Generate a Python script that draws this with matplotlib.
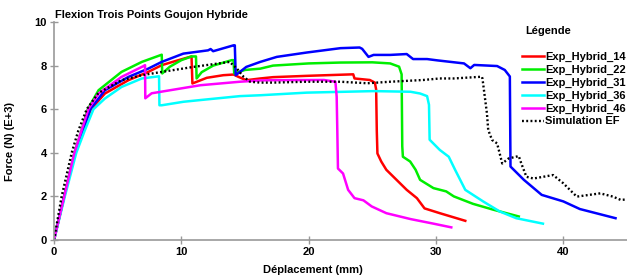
import matplotlib
matplotlib.use('Agg')
import matplotlib.pyplot as plt

plt.rcParams['font.family'] = ['Liberation Sans', 'DejaVu Sans']
plt.rcParams['font.weight'] = 'bold'

# courbes (deplacement en mm, force en kN)
x14 = [0, 0.8, 1.65, 2.25, 2.9, 4.0, 5.84, 7.4, 8.46, 9.6, 10.8, 10.87, 12.0, 13.3, 14.1, 14.5, 15.1, 16.2, 17.2,
       19.85, 23.5, 23.6, 24.8, 25.2, 25.3, 25.35, 25.4, 25.7, 26.1, 26.9, 27.7, 28.5, 29.1, 30.3, 32.3]
y14 = [0, 2, 4, 5, 6, 6.72, 7.33, 7.71, 8.02, 8.22, 8.42, 7.18, 7.44, 7.56, 7.59, 7.48, 7.33, 7.41, 7.47,
       7.53, 7.6, 7.41, 7.34, 7.22, 6.9, 5.0, 3.97, 3.6, 3.22, 2.76, 2.3, 1.92, 1.45, 1.23, 0.88]

x22 = [0, 0.8, 1.6, 2.15, 2.65, 3.5, 5.3, 6.9, 8.46, 8.5, 9.1, 10.0, 10.8, 11.15, 11.2, 11.6, 12.5, 13.96, 14.1,
       14.15, 15.0, 16.2, 17.2, 20.0, 22.5, 25.0, 26.4, 27.1, 27.3, 27.35, 27.4, 27.97, 28.4, 28.75, 29.8, 30.8,
       31.4, 32.9, 34.5, 36.5]
y22 = [0, 2, 4, 5, 6, 6.87, 7.71, 8.17, 8.5, 7.64, 7.95, 8.25, 8.42, 8.42, 7.41, 7.7, 8.0, 8.25, 8.25,
       7.64, 7.8, 7.86, 8.0, 8.1, 8.14, 8.15, 8.1, 7.95, 7.6, 4.3, 3.82, 3.6, 3.22, 2.76, 2.38, 2.23,
       2.0, 1.66, 1.39, 1.08]

x31 = [0, 0.8, 1.65, 2.25, 2.85, 4.0, 5.84, 7.4, 8.46, 10.16, 12.1, 12.3, 12.5, 14.1, 14.2, 14.27, 15.1, 16.2,
       17.5, 19.85, 22.5, 24.0, 24.2, 24.7, 25.1, 26.4, 27.7, 28.2, 29.3, 30.1, 32.2, 32.7, 33.0, 34.8, 35.4,
       35.8, 35.85, 36.9, 38.3, 40.0, 41.3, 44.1]
y31 = [0, 2, 4, 5, 6, 6.87, 7.48, 7.86, 8.17, 8.55, 8.7, 8.76, 8.66, 8.93, 8.93, 7.56, 7.94, 8.17,
       8.4, 8.6, 8.8, 8.83, 8.77, 8.4, 8.49, 8.49, 8.53, 8.3, 8.3, 8.24, 8.1, 7.88, 8.03, 7.98, 7.8,
       7.5, 3.37, 2.76, 2.07, 1.77, 1.42, 1.0]

x36 = [0, 0.85, 1.75, 2.4, 3.1, 4.0, 5.3, 6.9, 8.25, 8.28, 8.46, 10.16, 11.5, 14.6, 16.2, 19.85, 25.1, 28.0,
       28.75, 29.3, 29.45, 29.5, 30.3, 31.0, 31.5, 32.3, 33.7, 35.0, 36.3, 38.4]
y36 = [0, 2, 4, 5, 6, 6.49, 7.02, 7.41, 7.51, 6.18, 6.18, 6.34, 6.42, 6.6, 6.64, 6.76, 6.83, 6.8,
       6.72, 6.6, 6.2, 4.6, 4.13, 3.82, 3.22, 2.3, 1.77, 1.31, 1.0, 0.75]

x46 = [0, 0.8, 1.6, 2.15, 2.7, 3.5, 5.3, 6.1, 7.0, 7.15, 7.17, 7.67, 11.5, 14.6, 16.2, 17.2, 21.2, 22.1, 22.2,
       22.25, 22.3, 22.7, 23.1, 23.6, 24.3, 24.95, 26.1, 28.0, 29.8, 31.2]
y46 = [0, 2, 4, 5, 6, 6.72, 7.48, 7.71, 7.97, 8.02, 6.5, 6.73, 7.1, 7.26, 7.32, 7.33, 7.34, 7.26, 6.57,
       5.0, 3.28, 3.05, 2.3, 1.92, 1.82, 1.54, 1.23, 0.96, 0.75, 0.58]

xsim = [0, 0.6, 1.39, 1.9, 2.57, 3.5, 5.3, 6.9, 8.46, 10.95, 13.8, 14.35, 14.9, 15.4, 16.2, 17.2, 19.85, 22.5,
        24.6, 26.4, 29.0, 30.3, 31.4, 33.6, 33.65, 34.0, 34.1, 34.4, 34.8, 35.2, 35.7, 36.5, 36.7, 37.1, 37.65,
        39.2, 40.0, 41.05, 42.9, 43.9, 44.5, 45.0]
ysim = [0, 2, 4, 5, 6, 6.75, 7.33, 7.56, 7.71, 7.94, 8.17, 7.87, 7.48, 7.26, 7.22, 7.22, 7.26, 7.26,
        7.19, 7.26, 7.34, 7.41, 7.41, 7.49, 7.4, 5.81, 5.05, 4.59, 4.43, 3.51, 3.74, 3.85, 3.51, 2.9, 2.82,
        2.98, 2.6, 1.99, 2.14, 1.99, 1.84, 1.86]

series = [
    (x14, y14, 'Exp_Hybrid_14', '#ff0000'),
    (x22, y22, 'Exp_Hybrid_22', '#00ee00'),
    (x31, y31, 'Exp_Hybrid_31', '#0000ff'),
    (x36, y36, 'Exp_Hybrid_36', '#00ffff'),
    (x46, y46, 'Exp_Hybrid_46', '#ff00ff'),
]

fig = plt.figure(figsize=(6.27, 2.77), dpi=100)
ax = fig.add_axes([54 / 627, 1 - 240 / 277, 573 / 627, 218 / 277])

for xs, ys, lab, c in series:
    ax.plot(xs, ys, color=c, lw=1.8, label=lab, solid_joinstyle='round')
ax.plot(xsim, ysim, color='black', lw=1.7, linestyle=(0, (0.8, 1.0)), label='Simulation EF')

ax.set_xlim(0, 45)
ax.set_ylim(0, 10)
ax.set_xticks([0, 10, 20, 30, 40])
ax.set_yticks([0, 2, 4, 6, 8, 10])
for s in ['top', 'right']:
    ax.spines[s].set_visible(False)
for s in ['left', 'bottom']:
    ax.spines[s].set_color('#999999')
    ax.spines[s].set_linewidth(1.2)
ax.tick_params(direction='inout', length=6, width=1, color='#999999', labelsize=8, pad=2)
for t in ax.get_xticklabels() + ax.get_yticklabels():
    t.set_fontweight('bold')

ax.set_xlabel('Déplacement (mm)', fontsize=8, fontweight='bold')
ax.xaxis.set_label_coords(0.452, -0.115)
ax.set_ylabel('Force (N) (E+3)', fontsize=8, fontweight='bold')
ax.yaxis.set_label_coords(-0.068, 0.45)

fig.text(55 / 627, 1 - 15 / 277, 'Flexion Trois Points Goujon Hybride', fontsize=8, fontweight='bold',
         ha='left', va='center')
fig.text(525 / 627, 1 - 31 / 277, 'Légende', fontsize=8, fontweight='bold', ha='left', va='center')

leg = ax.legend(loc='upper left', bbox_to_anchor=(522 / 627, 1 - 52 / 277), bbox_transform=fig.transFigure,
                frameon=False, fontsize=8, handlelength=2.0, handletextpad=0.1, labelspacing=0.25,
                borderpad=0, borderaxespad=0)
for t in leg.get_texts():
    t.set_fontweight('bold')

fig.savefig('out.png', dpi=100)
